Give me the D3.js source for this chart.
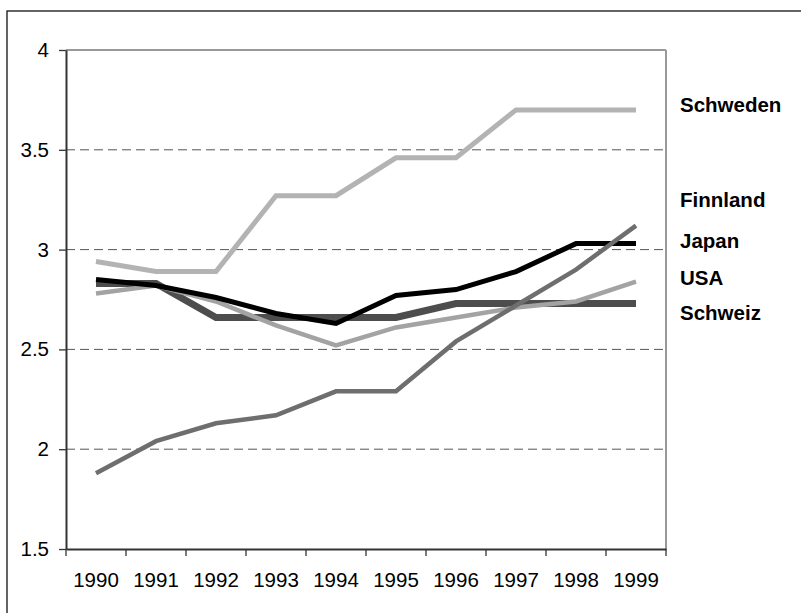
<!DOCTYPE html>
<html><head><meta charset="utf-8">
<script src="https://cdn.jsdelivr.net/npm/d3@7"></script>
<style>
html,body{margin:0;padding:0;background:#fff;}
svg{display:block;font-family:"Liberation Sans",Arial,sans-serif;}
</style></head>
<body>
<svg id="chart" width="801" height="613"></svg>
<script>
const years = ["1990","1991","1992","1993","1994","1995","1996","1997","1998","1999"];
const schweden = [2.94,2.89,2.89,3.27,3.27,3.46,3.46,3.70,3.70,3.70];
const finnland = [1.88,2.04,2.13,2.17,2.29,2.29,2.54,2.72,2.90,3.12];
const japan    = [2.85,2.82,2.76,2.68,2.63,2.77,2.80,2.89,3.03,3.03];
const usa      = [2.78,2.82,2.74,2.62,2.52,2.61,2.66,2.71,2.74,2.84];
const schweiz  = [2.83,2.83,2.66,2.66,2.66,2.66,2.73,2.73,2.73,2.73];
const yTicks = [1.5,2,2.5,3,3.5,4];
const gridValues = [2,2.5,3,3.5];
const labelNames = ["Schweden","Finnland","Japan","USA","Schweiz"];
const labelAnchors = [3.727,3.251,3.044,2.859,2.683];

const series = [
  {name:"Schweden", values:schweden, color:"#b3b3b3", width:5},
  {name:"Schweiz",  values:schweiz,  color:"#4d4d4d", width:7},
  {name:"USA",      values:usa,      color:"#a3a3a3", width:4.5},
  {name:"Japan",    values:japan,    color:"#000000", width:5},
  {name:"Finnland", values:finnland, color:"#6e6e6e", width:4.5}
];

const FS = 20.5;
const svg = d3.select("#chart");
const L = 66, R = 666, T = 50, B = 549;

// outer chart border (top & left visible)
svg.append("rect").attr("x",7).attr("y",11).attr("width",820).attr("height",640)
  .attr("fill","none").attr("stroke","#111").attr("stroke-width",1.3);

const x = d3.scaleBand().domain(years).range([L,R]).padding(0);
const y = d3.scaleLinear().domain([1.5,4]).range([B,T]);

// gridlines
svg.append("g").selectAll("line").data(gridValues).join("line")
  .attr("x1",L).attr("x2",R).attr("y1",d=>y(d)).attr("y2",d=>y(d))
  .attr("stroke","#555").attr("stroke-width",1).attr("stroke-dasharray","9,5");

// plot area border top & right
svg.append("line").attr("x1",L).attr("x2",R).attr("y1",y(4)).attr("y2",y(4))
  .attr("stroke","#999").attr("stroke-width",2);
svg.append("line").attr("x1",R).attr("x2",R).attr("y1",y(4)).attr("y2",y(1.5))
  .attr("stroke","#999").attr("stroke-width",2);

// lines
const line = d3.line().x((d,i)=>x(years[i])+x.bandwidth()/2).y(d=>y(d));
svg.append("g").selectAll("path").data(series).join("path")
  .attr("d",d=>line(d.values)).attr("fill","none")
  .attr("stroke",d=>d.color).attr("stroke-width",d=>d.width)
  .attr("stroke-linejoin","miter").attr("stroke-linecap","butt");

// y axis
const yAxis = d3.axisLeft(y).tickValues(yTicks).tickFormat(d3.format("")).tickSize(7).tickSizeOuter(0).tickPadding(10);
const gy = svg.append("g").attr("transform",`translate(${L},0)`).call(yAxis);
gy.select(".domain").attr("stroke","#333").attr("stroke-width",2);
gy.selectAll(".tick line").attr("stroke","#333").attr("stroke-width",1.3);
gy.selectAll("text").attr("font-size",FS).attr("fill","#000").attr("font-family","Liberation Sans, Arial, sans-serif");

// x axis
const xAxis = d3.axisBottom(x).tickSize(0).tickSizeOuter(0).tickPadding(23.5);
const gx = svg.append("g").attr("transform",`translate(0,${B})`).call(xAxis);
gx.select(".domain").attr("stroke","#333").attr("stroke-width",2);
gx.selectAll("text").attr("font-size",FS).attr("fill","#000").attr("font-family","Liberation Sans, Arial, sans-serif");
const bounds = years.map(d=>x(d)).concat([x.range()[1]]);
gx.append("g").selectAll("line").data(bounds).join("line")
  .attr("x1",d=>d).attr("x2",d=>d).attr("y1",0).attr("y2",7)
  .attr("stroke","#333").attr("stroke-width",1.3);

// labels
svg.append("g").selectAll("text").data(labelNames).join("text")
  .attr("x",680).attr("y",(d,i)=>y(labelAnchors[i])).attr("dy","0.36em")
  .attr("font-size",FS).attr("font-weight","bold").attr("fill","#000")
  .text(d=>d);
</script>
</body></html>
